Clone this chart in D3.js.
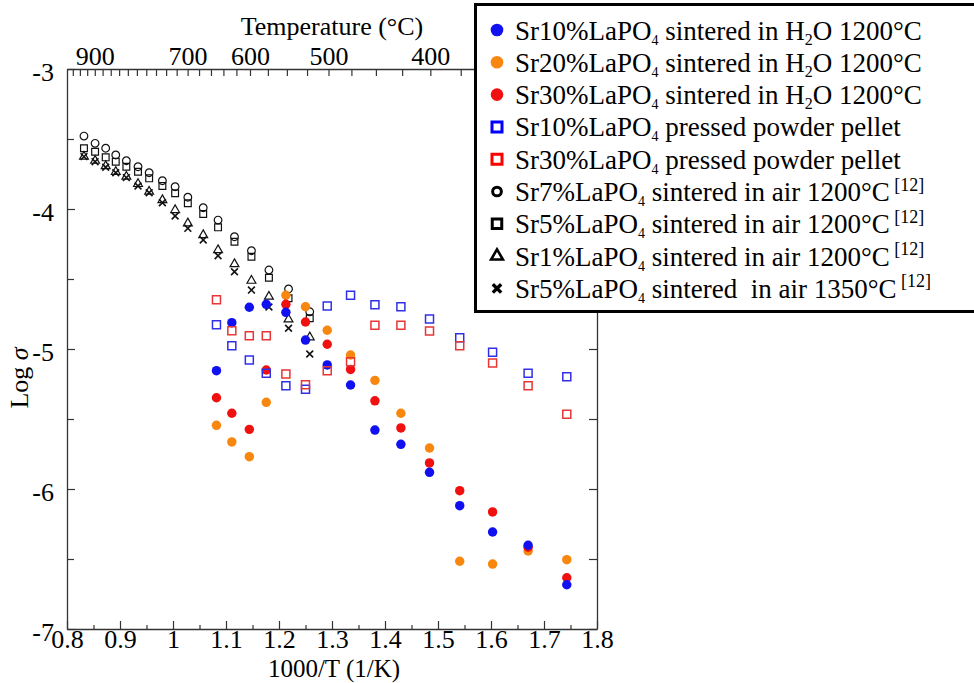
<!DOCTYPE html>
<html><head><meta charset="utf-8">
<script src="https://cdn.jsdelivr.net/npm/d3@7"></script>
<style>
body{margin:0;background:#fff}
text{font-family:"Liberation Serif","Times New Roman",serif;fill:#000}
</style>
</head><body><svg id="c" width="974" height="683"></svg>
<script>
// ---------- data ----------
const xMajor = [0.8,0.9,1.0,1.1,1.2,1.3,1.4,1.5,1.6,1.7,1.8];
const xMinor = [0.85,0.95,1.05,1.15,1.25,1.35,1.45,1.55,1.65,1.75];
const yMajor = [-3,-4,-5,-6,-7];
const yMinor = [-3.5,-4.5,-5.5,-6.5];
const topTempTicks = [960,940,920,900,880,860,840,820,800,780,760,740,720,700,680,660,640,620,600,575,550,525,500,475,450,425,400,375,350,325];
const topTempLabels = [900,700,600,500,400];

// 1000/T positions for this work's samples
const xWork = [1.082,1.111,1.144,1.176,1.213,1.250,1.291,1.335,1.381,1.430,1.484,1.541,1.603,1.670,1.743];
const sr10H2O = [-5.155,-4.812,-4.702,-4.681,-4.738,-4.936,-5.114,-5.257,-5.579,-5.681,-5.881,-6.119,-6.307,-6.402,-6.684];
const sr20H2O = [-5.545,-5.664,-5.769,-5.381,-4.616,-4.698,-4.866,-5.043,-5.224,-5.459,-5.707,-6.516,-6.536,-6.443,-6.505];
const sr30H2O = [-5.348,-5.459,-5.574,-5.150,-4.681,-4.807,-4.966,-5.146,-5.370,-5.564,-5.814,-6.012,-6.164,-6.416,-6.634];
const sr10Pressed = [-4.826,-4.976,-5.079,-5.174,-5.262,-5.288,-4.693,-4.616,-4.684,-4.698,-4.786,-4.919,-5.024,-5.174,-5.198];
const sr30Pressed = [-4.648,-4.869,-4.905,-4.905,-5.179,-5.255,-5.155,-5.091,-4.831,-4.831,-4.871,-4.976,-5.100,-5.262,-5.466];

// literature data [12]
const xLit = [0.832,0.853,0.873,0.892,0.912,0.934,0.955,0.980,1.004,1.028,1.057,1.085,1.116,1.148,1.181,1.218,1.258];
const sr7Air = [-3.479,-3.531,-3.566,-3.614,-3.655,-3.698,-3.741,-3.798,-3.841,-3.916,-3.991,-4.079,-4.198,-4.298,-4.436,-4.571,-4.734];
const sr5Air = [-3.566,-3.591,-3.631,-3.662,-3.698,-3.734,-3.781,-3.836,-3.888,-3.959,-4.036,-4.131,-4.234,-4.341,-4.491,-4.638,-4.780];
const sr1Air = [-3.626,-3.655,-3.693,-3.734,-3.769,-3.821,-3.876,-3.936,-4.007,-4.102,-4.186,-4.293,-4.393,-4.512,-4.626,-4.788,-4.916];
const sr5Air1350 = [-3.626,-3.662,-3.702,-3.741,-3.776,-3.836,-3.884,-3.955,-4.050,-4.138,-4.221,-4.334,-4.448,-4.579,-4.700,-4.852,-5.036];

// ---------- chart ----------
const svg = d3.select("#c");
const x = d3.scaleLinear().domain([0.8,1.8]).range([67,597]);
const y = d3.scaleLinear().domain([-7,-3]).range([629,69]);
const FS = 26;
const axisColor = "#333";

function styleAxis(g){
  g.selectAll("path.domain").attr("stroke",axisColor).attr("stroke-width",1.3);
  g.selectAll(".tick line").attr("stroke",axisColor).attr("stroke-width",1.2);
  g.selectAll("text").attr("font-size",FS).attr("font-family",'"Liberation Serif","Times New Roman",serif').attr("fill","#000");
  g.attr("font-size",null).attr("font-family",null);
}

// bottom axis
svg.append("g").attr("transform",`translate(0,${y(-7)})`)
  .call(d3.axisBottom(x).tickValues(xMinor).tickSize(-4).tickSizeOuter(0).tickFormat(""))
  .call(g=>g.select(".domain").remove()).call(styleAxis);
svg.append("g").attr("transform",`translate(0,${y(-7)})`)
  .call(d3.axisBottom(x).tickValues(xMajor).tickSize(-8).tickSizeOuter(0).tickPadding(1).tickFormat(d3.format("~g")))
  .call(styleAxis);

// left axis
svg.append("g").attr("transform",`translate(${x(0.8)},0)`)
  .call(d3.axisLeft(y).tickValues(yMinor).tickSize(-7).tickSizeOuter(0).tickFormat(""))
  .call(g=>g.select(".domain").remove()).call(styleAxis);
svg.append("g").attr("transform",`translate(${x(0.8)},0)`)
  .call(d3.axisLeft(y).tickValues(yMajor).tickSize(-8).tickSizeOuter(0).tickPadding(13).tickFormat(d=>String(d)))
  .call(g=>g.selectAll("text").attr("dy","0.45em"))
  .call(styleAxis);

// right axis
svg.append("g").attr("transform",`translate(${x(1.8)},0)`)
  .call(d3.axisRight(y).tickValues(yMajor.concat(yMinor)).tickSize(-8).tickSizeOuter(0).tickFormat(""))
  .call(styleAxis);

// top axis (temperature, °C)
const toInvT = T => 1000/(T+273.15);
svg.append("g").attr("transform",`translate(0,${y(-3)})`)
  .call(d3.axisTop(x).tickValues(topTempTicks.map(toInvT)).tickSize(-7).tickSizeOuter(0).tickPadding(4)
    .tickFormat(v=>{const T=Math.round(1000/v-273.15);return topTempLabels.includes(T)?String(T):"";}))
  .call(styleAxis);

// axis titles
svg.append("text").attr("x",332).attr("y",35).attr("text-anchor","middle").attr("font-size",FS).text("Temperature (°C)");
svg.append("text").attr("x",334).attr("y",677).attr("text-anchor","middle").attr("font-size",25).text("1000/T (1/K)");
const yl = svg.append("text").attr("transform","translate(28,378) rotate(-90)").attr("text-anchor","middle").attr("font-size",FS);
yl.append("tspan").text("Log ");
yl.append("tspan").attr("font-style","italic").text("σ");

// symbols
const timesType = {draw(ctx,size){const r=Math.sqrt(size)/2;ctx.moveTo(-r,-r);ctx.lineTo(r,r);ctx.moveTo(r,-r);ctx.lineTo(-r,r);}};

const BLUE="#1010f0", ORANGE="#f7870f", RED="#f01010";
const series = [
  {name:"sr7Air", xs:xLit, ys:sr7Air, type:d3.symbolCircle, size:46, fill:"none", stroke:"#111", sw:1.2},
  {name:"sr5Air", xs:xLit, ys:sr5Air, type:d3.symbolSquare, size:46, fill:"none", stroke:"#111", sw:1.2},
  {name:"sr1Air", xs:xLit, ys:sr1Air, type:d3.symbolTriangle, size:34, fill:"none", stroke:"#111", sw:1.2},
  {name:"sr5Air1350", xs:xLit, ys:sr5Air1350, type:timesType, size:46, fill:"none", stroke:"#111", sw:1.6},
  {name:"sr20H2O", xs:xWork, ys:sr20H2O, type:d3.symbolCircle, size:70, fill:ORANGE, stroke:"none", sw:0},
  {name:"sr30H2O", xs:xWork, ys:sr30H2O, type:d3.symbolCircle, size:70, fill:RED, stroke:"none", sw:0},
  {name:"sr10H2O", xs:xWork, ys:sr10H2O, type:d3.symbolCircle, size:70, fill:BLUE, stroke:"none", sw:0},
  {name:"sr10Pressed", xs:xWork, ys:sr10Pressed, type:d3.symbolSquare, size:64, fill:"none", stroke:"#3030e8", sw:1.5},
  {name:"sr30Pressed", xs:xWork, ys:sr30Pressed, type:d3.symbolSquare, size:64, fill:"none", stroke:"#e83535", sw:1.5},
];
series.forEach(s=>{
  const sym = d3.symbol().type(s.type).size(s.size);
  svg.append("g").attr("class",s.name).selectAll("path").data(s.ys.map((v,i)=>[s.xs[i],v])).join("path")
    .attr("transform",d=>`translate(${x(d[0])},${y(d[1])})`)
    .attr("d",sym).attr("fill",s.fill).attr("stroke",s.stroke).attr("stroke-width",s.sw);
});

// ---------- legend ----------
const legendItems = [
  {type:d3.symbolCircle,size:125,fill:BLUE,stroke:"none",sw:0, parts:[["Sr10%LaPO"],["4","sub"],[" sintered in H"],["2","h2"],["O 1200°C"]]},
  {type:d3.symbolCircle,size:125,fill:ORANGE,stroke:"none",sw:0, parts:[["Sr20%LaPO"],["4","sub"],[" sintered in H"],["2","h2"],["O 1200°C"]]},
  {type:d3.symbolCircle,size:125,fill:RED,stroke:"none",sw:0, parts:[["Sr30%LaPO"],["4","sub"],[" sintered in H"],["2","h2"],["O 1200°C"]]},
  {type:d3.symbolSquare,size:100,fill:"#fff",stroke:"#0000ff",sw:3, parts:[["Sr10%LaPO"],["4","sub"],[" pressed powder pellet"]]},
  {type:d3.symbolSquare,size:100,fill:"#fff",stroke:"#ff0000",sw:3, parts:[["Sr30%LaPO"],["4","sub"],[" pressed powder pellet"]]},
  {type:d3.symbolCircle,size:60,fill:"none",stroke:"#000",sw:3, parts:[["Sr7%LaPO"],["4","sub"],[" sintered in air 1200°C"],[" [12]","sup"]]},
  {type:d3.symbolSquare,size:90,fill:"none",stroke:"#000",sw:3, parts:[["Sr5%LaPO"],["4","sub"],[" sintered in air 1200°C"],[" [12]","sup"]]},
  {type:d3.symbolTriangle,size:60,fill:"none",stroke:"#000",sw:2.6, parts:[["Sr1%LaPO"],["4","sub"],[" sintered in air 1200°C"],[" [12]","sup"]]},
  {type:timesType,size:70,fill:"none",stroke:"#000",sw:3.4, parts:[["Sr5%LaPO"],["4","sub"],[" sintered  in air 1350°C"],[" [12]","sup"]]},
];
const lg = svg.append("g");
lg.append("rect").attr("x",475.5).attr("y",4.5).attr("width",520).attr("height",307)
  .attr("fill","#fff").attr("stroke","#000").attr("stroke-width",3);
const LFS = 27, rowH = 32.3, base0 = 39.5;
legendItems.forEach((it,i)=>{
  const by = base0 + i*rowH;
  lg.append("path").attr("transform",`translate(497,${by-9.5})`)
    .attr("d",d3.symbol().type(it.type).size(it.size)())
    .attr("fill",it.fill).attr("stroke",it.stroke).attr("stroke-width",it.sw);
  const t = lg.append("text").attr("x",515).attr("y",by).attr("font-size",LFS).style("white-space","pre");
  it.parts.forEach(p=>{
    const [str,kind] = p;
    if(kind==="sub"){ t.append("tspan").attr("font-size",14).attr("dy",5).text(str); }
    else if(kind==="h2"){ t.append("tspan").attr("font-size",16).attr("dy",5).text(str); }
    else if(kind==="sup"){ t.append("tspan").attr("font-size",18).attr("dy",-10.5).text(str); }
    else {
      const prev = t.selectAll("tspan").nodes().slice(-1)[0];
      const back = prev ? (prev.getAttribute("dy")==="5"? -5 : 0) : 0;
      t.append("tspan").attr("dy",back).text(str);
    }
  });
});
</script></body></html>
